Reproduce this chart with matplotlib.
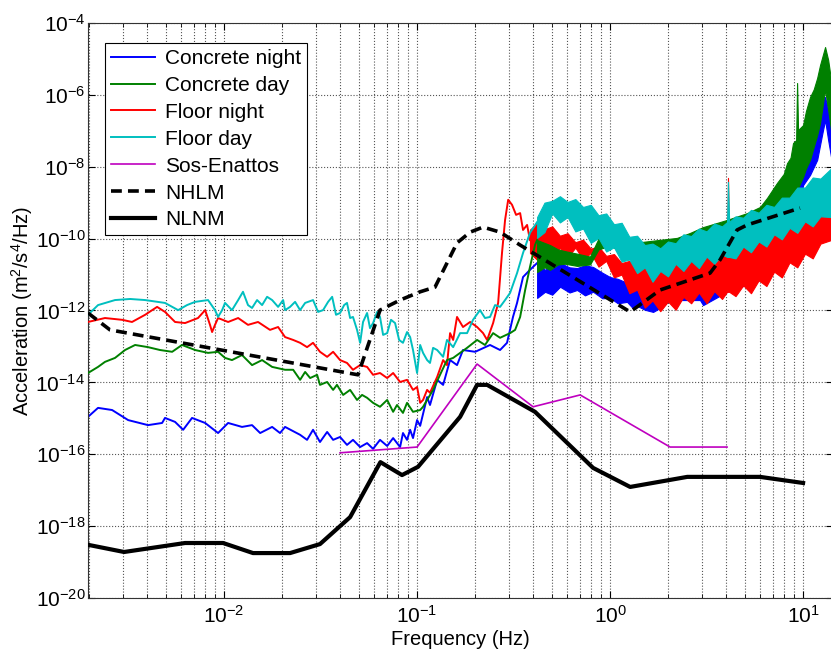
import numpy as np
import matplotlib.pyplot as plt
from matplotlib.ticker import FixedLocator, NullLocator, FuncFormatter

plt.rcParams['font.family'] = ['Liberation Sans', 'DejaVu Sans']
plt.rcParams['mathtext.fontset'] = 'custom'
plt.rcParams['mathtext.rm'] = 'Liberation Sans'
plt.rcParams['mathtext.default'] = 'regular'

# all values as log10(freq / Hz) and log10(PSD)
# --- Concrete night (blue)
cn_f = [-2.705, -2.653, -2.580, -2.497, -2.394, -2.321, -2.306, -2.254, -2.212, -2.166,
        -2.098, -2.031, -1.979, -1.907, -1.855, -1.813, -1.751, -1.710, -1.684, -1.606,
        -1.570, -1.539, -1.503, -1.466, -1.435, -1.399, -1.363, -1.332, -1.295, -1.259,
        -1.228, -1.192, -1.155, -1.124, -1.088, -1.073, -1.052, -1.036, -1.021, -1.000,
        -0.984, -0.948, -0.933, -0.896, -0.865, -0.829, -0.793, -0.762, -0.699, -0.622,
        -0.570, -0.534, -0.503, -0.482, -0.451, -0.415, -0.378]
cn_v = [-14.96, -14.71, -14.77, -15.05, -15.19, -15.13, -14.99, -15.10, -15.32, -14.99,
        -15.13, -15.41, -15.13, -15.24, -15.19, -15.41, -15.24, -15.41, -15.24, -15.46,
        -15.60, -15.32, -15.66, -15.38, -15.60, -15.52, -15.74, -15.60, -15.80, -15.69,
        -15.85, -15.60, -15.77, -15.55, -15.80, -15.41, -15.60, -15.32, -15.55, -15.05,
        -15.21, -14.41, -14.63, -13.93, -14.07, -13.38, -13.52, -13.10, -13.15, -12.96,
        -13.10, -12.90, -12.18, -11.79, -11.07, -10.87, -10.68]
cn_bf = [-0.378, -0.337, -0.30, -0.259, -0.21, -0.171, -0.13, -0.088, -0.04, 0.0, 0.04, 0.088,
         0.115, 0.140, 0.18, 0.223, 0.259, 0.311, 0.466, 0.482, 0.606, 0.777, 0.881, 0.948,
         1.0, 1.036, 1.073, 1.098, 1.114, 1.130, 1.145]
cn_bhi = [-10.68, -10.87, -10.72, -10.68, -10.80, -10.82, -10.74, -10.79, -10.95, -11.07, -11.12, -11.23,
          -11.30, -11.43, -11.52, -11.62, -11.57, -11.29, -11.01, -11.01, -10.73, -10.18, -9.76, -8.92,
          -7.95, -7.53, -6.84, -6.28, -6.06, -6.42, -6.98]
cn_blo = [-11.65, -11.48, -11.56, -11.34, -11.50, -11.43, -11.58, -11.48, -11.66, -11.65, -11.80, -11.76,
          -11.92, -11.87, -11.98, -12.04, -11.93, -11.71, -11.71, -11.85, -11.48, -11.15, -10.73, -10.04,
          -8.51, -8.23, -7.81, -7.12, -6.70, -7.26, -7.73]

# --- Concrete day (green)
cd_f = [-2.705, -2.653, -2.617, -2.565, -2.513, -2.461, -2.394, -2.332, -2.269, -2.218,
        -2.150, -2.083, -2.031, -1.995, -1.959, -1.907, -1.855, -1.803, -1.751, -1.684,
        -1.642, -1.606, -1.580, -1.554, -1.518, -1.503, -1.466, -1.435, -1.415, -1.383,
        -1.347, -1.311, -1.285, -1.259, -1.228, -1.192, -1.155, -1.124, -1.104, -1.073,
        -1.052, -1.021, -0.984, -0.969, -0.948, -0.917, -0.881, -0.845, -0.813, -0.777,
        -0.741, -0.689, -0.648, -0.606, -0.570, -0.518, -0.492, -0.466, -0.440, -0.415,
        -0.389, -0.378]
cd_v = [-13.74, -13.57, -13.43, -13.32, -13.10, -12.96, -13.02, -13.10, -13.15, -12.96,
        -13.10, -13.18, -13.15, -13.32, -13.38, -13.24, -13.52, -13.38, -13.57, -13.65,
        -13.65, -13.93, -13.71, -13.88, -13.79, -14.07, -13.99, -14.21, -14.07, -14.35,
        -14.21, -14.49, -14.35, -14.43, -14.57, -14.68, -14.49, -14.82, -14.63, -14.85,
        -14.57, -14.82, -14.77, -14.68, -14.49, -14.21, -13.79, -13.38, -13.32, -13.18,
        -13.04, -12.82, -12.96, -12.63, -12.76, -12.63, -12.54, -12.18, -11.43, -10.79,
        -10.18, -10.04]
cd_bf = [-0.378, -0.34, -0.311, -0.27, -0.233, -0.17, -0.104, -0.06, 0.0, 0.155, 0.347, 0.415,
         0.482, 0.606, 0.710, 0.777, 0.813, 0.865, 0.90, 0.917, 0.935, 0.948, 0.964, 0.969, 0.974,
         1.0, 1.015, 1.036, 1.055, 1.073, 1.088, 1.114, 1.130, 1.145]
cd_bhi = [-10.04, -10.12, -10.18, -10.30, -10.35, -10.42, -10.50, -10.00, -9.90, -10.10, -9.98, -9.84,
          -9.68, -9.48, -9.29, -9.12, -8.87, -8.45, -8.20, -7.90, -7.75, -7.34, -7.26, -5.67, -6.98,
          -6.84, -6.45, -6.06, -5.85, -5.53, -5.17, -4.67, -5.03, -5.59]
cd_blo = [-10.93, -10.80, -10.87, -10.72, -10.70, -10.76, -10.72, -10.30, -10.20, -10.60, -10.60, -10.50,
          -10.40, -10.30, -9.98, -9.62, -9.48, -9.20, -9.12, -9.01, -8.92, -8.84, -8.65, -8.65, -8.59,
          -8.28, -8.05, -7.81, -7.45, -7.12, -6.78, -5.86, -6.42, -6.98]

# --- Floor night (red)
fn_f = [-2.705, -2.617, -2.528, -2.477, -2.409, -2.347, -2.306, -2.254, -2.202, -2.135,
        -2.098, -2.073, -2.062, -2.047, -2.031, -1.979, -1.927, -1.876, -1.824, -1.762,
        -1.720, -1.684, -1.642, -1.606, -1.570, -1.539, -1.503, -1.466, -1.435, -1.399,
        -1.363, -1.332, -1.295, -1.259, -1.228, -1.192, -1.155, -1.124, -1.088, -1.052,
        -1.021, -1.000, -0.984, -0.969, -0.948, -0.933, -0.896, -0.865, -0.845, -0.829,
        -0.813, -0.793, -0.762, -0.725, -0.689, -0.658, -0.637, -0.606, -0.580, -0.560,
        -0.544, -0.528, -0.508, -0.487, -0.466, -0.451, -0.430, -0.415]
fn_v = [-12.32, -12.21, -12.26, -12.32, -12.12, -11.90, -12.04, -12.32, -12.35, -12.21,
        -11.99, -12.40, -12.60, -12.40, -12.21, -12.32, -12.21, -12.40, -12.32, -12.54,
        -12.46, -12.74, -12.82, -12.90, -13.02, -12.90, -13.15, -13.29, -13.15, -13.38,
        -13.46, -13.65, -13.52, -13.57, -13.79, -13.74, -13.88, -13.74, -13.99, -13.93,
        -14.21, -14.13, -14.57, -14.49, -14.21, -14.29, -13.85, -13.38, -13.52, -12.63,
        -12.82, -12.18, -12.46, -12.32, -12.46, -12.63, -12.82, -12.35, -11.79, -10.40,
        -9.48, -8.92, -9.06, -9.34, -9.29, -9.76, -9.62, -10.04]
fn_bf = [-0.415, -0.38, -0.34, -0.30, -0.26, -0.22, -0.18, -0.14, -0.10, -0.06, -0.02, 0.02,
         0.06, 0.10, 0.14, 0.18, 0.22, 0.26, 0.30, 0.34, 0.38, 0.42, 0.46, 0.50, 0.54, 0.58,
         0.606, 0.611, 0.617, 0.65, 0.69, 0.73, 0.77, 0.81, 0.85, 0.89, 0.93, 0.97, 1.01, 1.05,
         1.09, 1.145]
fn_bhi = [-9.75, -9.58, -9.74, -9.66, -9.92, -9.85, -10.10, -10.03, -10.28, -10.22, -10.48, -10.43,
          -10.68, -10.62, -10.79, -10.70, -10.86, -10.72, -10.84, -10.66, -10.77, -10.58, -10.68, -10.46,
          -10.55, -10.31, -10.32, -8.31, -10.32, -10.34, -10.15, -10.22, -9.98, -10.02, -9.73, -9.76,
          -9.46, -9.49, -9.20, -9.26, -9.03, -9.01]
fn_blo = [-10.40, -10.58, -10.30, -10.50, -10.26, -10.52, -10.25, -10.58, -10.40, -10.78, -10.62, -11.08,
          -11.00, -11.52, -11.42, -11.92, -11.72, -12.02, -11.75, -11.98, -11.62, -11.80, -11.50, -11.80,
          -11.46, -11.68, -11.48, -11.48, -11.48, -11.60, -11.30, -11.52, -11.16, -11.32, -10.92, -11.08,
          -10.66, -10.80, -10.42, -10.55, -10.14, -10.04]

# --- Floor day (cyan)
fd_f = [-2.705, -2.653, -2.565, -2.487, -2.409, -2.306, -2.238, -2.192, -2.150, -2.083,
        -2.047, -2.031, -2.010, -1.995, -1.959, -1.927, -1.902, -1.876, -1.855, -1.829,
        -1.803, -1.777, -1.751, -1.720, -1.694, -1.684, -1.658, -1.632, -1.606, -1.580,
        -1.539, -1.513, -1.487, -1.461, -1.440, -1.420, -1.399, -1.378, -1.363, -1.347,
        -1.332, -1.311, -1.295, -1.280, -1.259, -1.244, -1.228, -1.207, -1.192, -1.176,
        -1.155, -1.135, -1.114, -1.093, -1.073, -1.052, -1.036, -1.021, -1.000, -0.984,
        -0.969, -0.948, -0.933, -0.917, -0.896, -0.865, -0.845, -0.813, -0.777, -0.741,
        -0.710, -0.674, -0.648, -0.622, -0.596, -0.570, -0.544, -0.518, -0.482, -0.451,
        -0.415, -0.378]
fd_v = [-12.12, -11.85, -11.71, -11.68, -11.71, -11.79, -11.99, -11.85, -11.76, -11.71,
        -11.99, -12.18, -11.99, -11.79, -11.99, -11.71, -11.48, -11.85, -11.93, -11.71,
        -11.85, -11.62, -11.71, -11.90, -11.71, -11.99, -11.90, -11.76, -11.99, -11.79,
        -11.71, -12.04, -11.99, -11.76, -11.62, -12.12, -12.07, -11.85, -11.79, -12.21,
        -12.18, -12.54, -12.90, -12.32, -12.07, -12.49, -12.35, -12.04, -12.18, -12.68,
        -12.63, -12.26, -12.35, -12.82, -12.90, -12.60, -12.74, -13.10, -13.74, -12.96,
        -13.18, -13.38, -13.46, -13.04, -13.10, -13.29, -12.82, -13.02, -12.63, -12.63,
        -12.26, -11.99, -12.21, -12.18, -11.85, -11.90, -11.71, -11.51, -10.96, -10.40,
        -9.84, -9.54]
fd_bf = [-0.378, -0.34, -0.30, -0.26, -0.22, -0.18, -0.14, -0.10, -0.06, -0.02, 0.02, 0.06,
         0.10, 0.14, 0.18, 0.22, 0.26, 0.30, 0.34, 0.38, 0.42, 0.46, 0.50, 0.54, 0.58, 0.606,
         0.611, 0.617, 0.65, 0.69, 0.73, 0.77, 0.81, 0.85, 0.89, 0.93, 0.97, 1.01, 1.05, 1.09,
         1.145]
fd_bhi = [-9.40, -9.00, -8.95, -8.82, -8.98, -8.90, -9.12, -9.06, -9.35, -9.30, -9.60, -9.56,
          -9.95, -9.92, -10.18, -10.14, -10.27, -10.08, -10.13, -9.88, -9.93, -9.72, -9.80, -9.58,
          -9.66, -9.54, -8.42, -9.54, -9.38, -9.42, -9.20, -9.28, -9.06, -9.12, -8.86, -8.86,
          -8.58, -8.58, -8.30, -8.33, -8.05]
fd_blo = [-9.98, -9.82, -9.30, -9.55, -9.40, -9.80, -9.72, -10.12, -9.98, -10.36, -10.24, -10.64,
          -10.58, -10.96, -10.80, -11.20, -10.90, -11.05, -10.70, -10.90, -10.62, -10.82, -10.50, -10.70,
          -10.44, -10.51, -10.51, -10.51, -10.55, -10.22, -10.38, -10.08, -10.22, -9.88, -10.02, -9.70,
          -9.84, -9.52, -9.66, -9.38, -9.40]

# --- Sos-Enattos (magenta)
se_f = [-1.399, -1.000, -0.689, -0.399, -0.155, 0.311, 0.606]
se_v = [-15.96, -15.80, -13.49, -14.68, -14.35, -15.80, -15.80]

# --- NHLM (dashed) and NLNM (solid) reference models
nh_f = [-2.705, -2.591, -1.306, -1.192, -1.088, -0.984, -0.907, -0.845, -0.793, -0.725,
        -0.658, -0.570, -0.466, 0.104, 0.259, 0.518, 0.570, 0.658, 0.710, 0.984]
nh_v = [-12.07, -12.54, -13.79, -11.99, -11.71, -11.48, -11.35, -10.68, -10.12, -9.82,
        -9.68, -9.82, -10.18, -12.04, -11.43, -10.96, -10.59, -9.76, -9.62, -9.15]
nl_f = [-2.705, -2.518, -2.202, -2.005, -1.850, -1.658, -1.503, -1.347, -1.190, -1.078,
        -0.995, -0.777, -0.689, -0.637, -0.389, -0.088, 0.104, 0.400, 0.777, 1.000]
nl_v = [-18.52, -18.72, -18.47, -18.47, -18.75, -18.75, -18.50, -17.75, -16.22, -16.58,
        -16.35, -14.96, -14.07, -14.07, -14.82, -16.38, -16.91, -16.63, -16.63, -16.80]


def p(a):
    return 10.0 ** np.array(a)


fig = plt.figure(figsize=(8.31, 6.58), dpi=100)
ax = fig.add_axes([0.1059, 0.0912, 0.8965, 0.8739])

# (label, colour, line f, line v, band f, band low, band high, zorder)
series = [
    ('Concrete night', '#0000ff', cn_f, cn_v, cn_bf, cn_blo, cn_bhi, 2),
    ('Concrete day', '#008000', cd_f, cd_v, cd_bf, cd_blo, cd_bhi, 4.5),
    ('Floor night', '#ff0000', fn_f, fn_v, fn_bf, fn_blo, fn_bhi, 4),
    ('Floor day', '#00bfbf', fd_f, fd_v, fd_bf, fd_blo, fd_bhi, 5),
]
for name, col, f, v, bf, blo, bhi, z in series:
    ax.plot(p(f), p(v), color=col, lw=1.4, label=name, zorder=z)
    ax.fill_between(p(bf), p(blo), p(bhi), color=col, lw=0.8, edgecolor=col, zorder=z)

ax.plot(p(se_f), p(se_v), color='#bf00bf', lw=1.2, label='Sos-Enattos', zorder=7)
ax.plot(p(nh_f), p(nh_v), color='k', lw=2.6, ls=(0, (3, 1.7)), label='NHLM', zorder=8)
ax.plot(p(nl_f), p(nl_v), color='k', lw=3.0, label='NLNM', zorder=9)

ax.set_xscale('log')
ax.set_yscale('log')
ax.set_xlim(10 ** -2.705, 10 ** 1.155)
ax.set_ylim(1e-20, 1e-4)

ax.yaxis.set_major_locator(FixedLocator([10.0 ** e for e in range(-20, -3, 2)]))
ax.yaxis.set_minor_locator(NullLocator())
ax.xaxis.set_major_locator(FixedLocator([1e-2, 1e-1, 1, 10]))
ax.xaxis.set_minor_locator(FixedLocator([m * 10.0 ** e for e in range(-3, 2) for m in range(2, 10)]))
fmt = FuncFormatter(lambda val, pos: r'$10^{%d}$' % round(np.log10(val)))
ax.xaxis.set_major_formatter(fmt)
ax.yaxis.set_major_formatter(fmt)
ax.tick_params(which='both', direction='in', labelsize=15, top=True, right=True)
ax.tick_params(axis='y', pad=2)
ax.tick_params(axis='x', pad=5)
ax.tick_params(which='major', length=5)
ax.tick_params(which='minor', length=3)
ax.grid(True, which='major', ls=':', color='#555555', lw=0.8)
ax.grid(True, which='minor', axis='x', ls=':', color='#555555', lw=0.8)
for s in ax.spines.values():
    s.set_color('#333333')
    s.set_linewidth(0.8)

ax.set_xlabel('Frequency (Hz)', fontsize=14.5, labelpad=2)
ax.set_ylabel('Acceleration (m$^2$/s$^4$/Hz)', fontsize=14.5, labelpad=0)

leg = ax.legend(loc='upper left', bbox_to_anchor=(0.0229, 0.965), borderaxespad=0,
                fontsize=15, fancybox=False, framealpha=1, edgecolor='k',
                handlelength=2.1, handletextpad=0.5, labelspacing=0.38, borderpad=0.28)
leg.get_frame().set_linewidth(0.8)
leg.set_zorder(20)

fig.savefig('out.png', dpi=100)
